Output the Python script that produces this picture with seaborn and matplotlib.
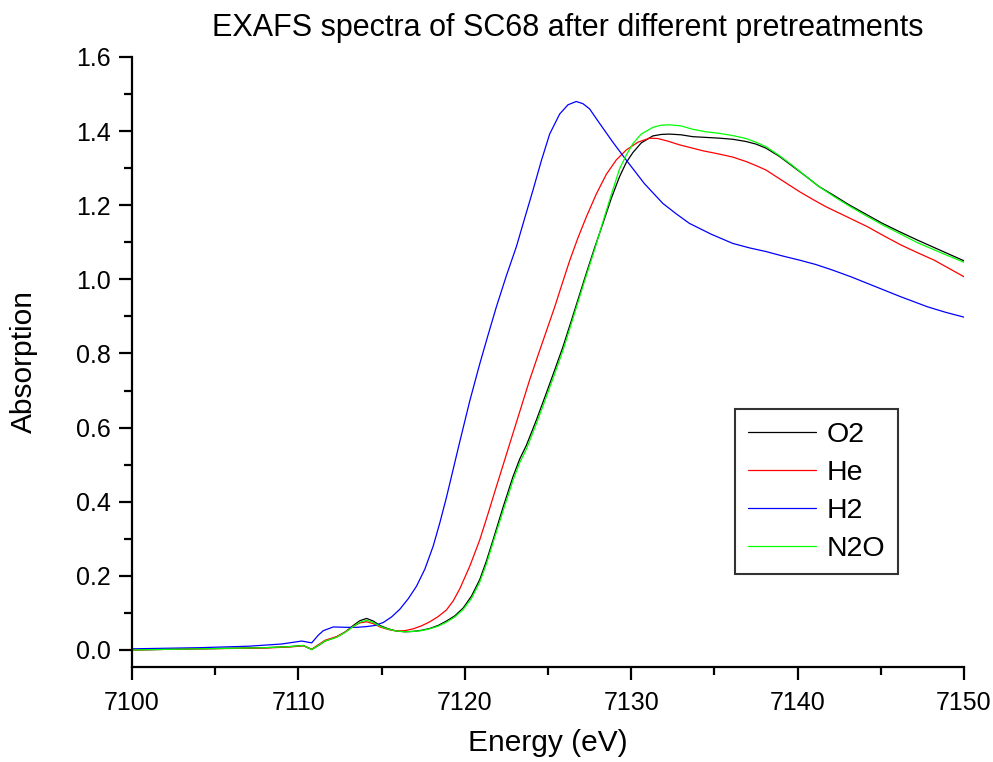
import matplotlib
matplotlib.use("Agg")
import matplotlib.pyplot as plt
from matplotlib.ticker import MultipleLocator, FormatStrFormatter
import seaborn as sns
import pandas as pd

# O2 pretreatment (black)
o2_energy = [7100, 7104, 7108, 7109.5, 7110.3, 7110.8, 7111.2, 7111.6, 7112.3, 7112.8,
             7113.3, 7113.7, 7114.1, 7114.5, 7114.9, 7115.4, 7115.9, 7116.4, 7116.9, 7117.4,
             7117.9, 7118.4, 7118.9, 7119.4, 7119.9, 7120.4, 7120.9, 7121.3, 7121.7, 7122.3,
             7122.9, 7123.3, 7123.7, 7124.3, 7124.9, 7125.4, 7125.9, 7126.4, 7126.8, 7127.3,
             7127.8, 7128.3, 7128.8, 7129.3, 7129.7, 7130.1, 7130.6, 7131.3, 7131.8, 7132.3,
             7133.0, 7133.7, 7134.5, 7135.3, 7136.1, 7136.9, 7137.5, 7138.1, 7138.9, 7139.7,
             7140.5, 7141.3, 7142.2, 7143.1, 7144.1, 7145.1, 7146.2, 7147.2, 7148.6, 7150.0]
o2_abs = [0.000, 0.003, 0.006, 0.009, 0.012, 0.001, 0.012, 0.024, 0.035, 0.048,
          0.066, 0.079, 0.085, 0.078, 0.066, 0.057, 0.051, 0.049, 0.050, 0.053,
          0.058, 0.066, 0.078, 0.092, 0.113, 0.145, 0.190, 0.240, 0.297, 0.385,
          0.468, 0.515, 0.552, 0.620, 0.693, 0.755, 0.818, 0.888, 0.945, 1.016,
          1.085, 1.151, 1.218, 1.277, 1.315, 1.342, 1.368, 1.387, 1.391, 1.392,
          1.390, 1.385, 1.383, 1.381, 1.378, 1.372, 1.365, 1.354, 1.332, 1.305,
          1.278, 1.250, 1.226, 1.201, 1.176, 1.151, 1.127, 1.106, 1.078, 1.050]

# N2O pretreatment (green)
n2o_energy = o2_energy
n2o_abs = [0.000, 0.003, 0.006, 0.009, 0.012, 0.001, 0.012, 0.024, 0.034, 0.047,
           0.063, 0.075, 0.080, 0.074, 0.064, 0.056, 0.051, 0.049, 0.050, 0.052,
           0.057, 0.064, 0.075, 0.089, 0.109, 0.139, 0.183, 0.232, 0.290, 0.375,
           0.458, 0.505, 0.542, 0.610, 0.683, 0.745, 0.808, 0.880, 0.938, 1.010,
           1.080, 1.155, 1.228, 1.298, 1.335, 1.366, 1.392, 1.410, 1.416, 1.417,
           1.414, 1.405, 1.398, 1.394, 1.388, 1.380, 1.370, 1.358, 1.334, 1.307,
           1.278, 1.250, 1.223, 1.198, 1.172, 1.147, 1.122, 1.099, 1.072, 1.046]

# He pretreatment (red)
he_energy = [7100, 7104, 7108, 7109.5, 7110.3, 7110.8, 7111.2, 7111.6, 7112.3, 7112.8,
             7113.3, 7113.7, 7114.1, 7114.5, 7114.9, 7115.4, 7115.9, 7116.4, 7116.9, 7117.4,
             7117.9, 7118.4, 7118.9, 7119.3, 7119.7, 7120.3, 7120.9, 7121.4, 7121.9, 7122.4,
             7122.9, 7123.4, 7123.9, 7124.4, 7124.9, 7125.4, 7125.9, 7126.3, 7126.8, 7127.3,
             7127.9, 7128.5, 7129.1, 7129.7, 7130.4, 7131.1, 7131.6, 7132.2, 7132.9, 7133.6,
             7134.3, 7135.3, 7136.1, 7136.9, 7137.5, 7138.1, 7139.1, 7140.1, 7140.9, 7141.7,
             7143.0, 7144.2, 7145.2, 7146.2, 7147.2, 7148.2, 7150.0]
he_abs = [0.000, 0.003, 0.005, 0.008, 0.011, 0.002, 0.014, 0.026, 0.036, 0.048,
          0.064, 0.073, 0.076, 0.071, 0.062, 0.055, 0.051, 0.052, 0.057, 0.065,
          0.076, 0.090, 0.108, 0.132, 0.165, 0.226, 0.297, 0.368, 0.441, 0.513,
          0.585, 0.657, 0.729, 0.795, 0.860, 0.925, 0.995, 1.050, 1.112, 1.168,
          1.230, 1.283, 1.322, 1.349, 1.370, 1.381, 1.380, 1.373, 1.363, 1.355,
          1.347, 1.338, 1.330, 1.318, 1.307, 1.295, 1.266, 1.237, 1.216, 1.196,
          1.168, 1.142, 1.117, 1.093, 1.072, 1.052, 1.007]

# H2 pretreatment (blue)
h2_energy = [7100, 7104, 7107, 7109, 7110.2, 7110.8, 7111.2, 7111.5, 7112.1, 7112.9,
             7113.5, 7114.1, 7114.6, 7115.1, 7115.6, 7116.1, 7116.6, 7117.1, 7117.6, 7118.1,
             7118.5, 7118.9, 7119.3, 7119.7, 7120.3, 7120.9, 7121.4, 7121.9, 7122.5, 7123.1,
             7123.6, 7124.1, 7124.6, 7125.1, 7125.7, 7126.2, 7126.7, 7127.1, 7127.5, 7128.1,
             7128.9, 7129.7, 7130.8, 7131.9, 7132.7, 7133.5, 7134.8, 7136.1, 7137.1, 7138.1,
             7139.1, 7140.1, 7141.1, 7142.1, 7143.2, 7144.2, 7145.2, 7146.2, 7147.8, 7148.9,
             7150.0]
h2_abs = [0.003, 0.006, 0.010, 0.016, 0.024, 0.019, 0.040, 0.052, 0.062, 0.061,
          0.061, 0.063, 0.066, 0.074, 0.089, 0.110, 0.138, 0.172, 0.218, 0.280,
          0.343, 0.412, 0.487, 0.562, 0.672, 0.772, 0.850, 0.926, 1.010, 1.088,
          1.165, 1.241, 1.320, 1.392, 1.446, 1.471, 1.480, 1.474, 1.460, 1.421,
          1.370, 1.322, 1.258, 1.205, 1.177, 1.151, 1.122, 1.097, 1.085, 1.075,
          1.063, 1.052, 1.040, 1.025, 1.007, 0.989, 0.971, 0.953, 0.926, 0.911,
          0.898]

labels = ["O2", "He", "H2", "N2O"]
colors = ["#000000", "#ff0000", "#0000ff", "#00ff00"]

frames = []
for name, e, a in [("O2", o2_energy, o2_abs), ("He", he_energy, he_abs),
                   ("H2", h2_energy, h2_abs), ("N2O", n2o_energy, n2o_abs)]:
    frames.append(pd.DataFrame({"Energy": e, "Absorption": a, "Gas": name}))
df = pd.concat(frames, ignore_index=True)

sns.set_style("ticks")
plt.rcParams["font.family"] = ["Liberation Sans", "DejaVu Sans"]
plt.rcParams["text.color"] = "black"
plt.rcParams["axes.labelcolor"] = "black"

fig = plt.figure(figsize=(9.93, 7.62), dpi=100)
ax = fig.add_axes([0.1329, 0.1247, 0.8379, 0.8005])

sns.lineplot(data=df, x="Energy", y="Absorption", hue="Gas", hue_order=labels,
             palette=colors, estimator=None, sort=False, linewidth=0.9, ax=ax)

ax.set_xlim(7100, 7150)
ax.set_ylim(-0.046, 1.6)
ax.xaxis.set_major_locator(MultipleLocator(10))
ax.xaxis.set_minor_locator(MultipleLocator(5))
ax.yaxis.set_major_locator(MultipleLocator(0.2))
ax.yaxis.set_minor_locator(MultipleLocator(0.1))
ax.yaxis.set_major_formatter(FormatStrFormatter("%.1f"))

for side in ["top", "right"]:
    ax.spines[side].set_visible(False)
for side in ["left", "bottom"]:
    ax.spines[side].set_linewidth(1.6)
    ax.spines[side].set_color("black")

ax.tick_params(which="major", direction="out", length=9.5, width=1.6,
               labelsize=18, colors="black")
ax.tick_params(axis="x", which="major", pad=8)
ax.tick_params(axis="y", which="major", pad=6)
ax.tick_params(which="minor", direction="out", length=5.5, width=1.6, colors="black")

ax.set_xlabel("Energy (eV)", fontsize=21.5, labelpad=10)
ax.set_ylabel("Absorption", fontsize=21.5, labelpad=27)
fig.text(0.5715, 0.953, "EXAFS spectra of SC68 after different pretreatments",
         fontsize=22, ha="center", va="baseline")

handles, _ = ax.get_legend_handles_labels()
ax.legend(handles=handles, labels=labels, loc="upper left",
          bbox_to_anchor=(0.725, 0.423), fontsize=20.5, frameon=True,
          fancybox=False, edgecolor="black", handlelength=2.4,
          handletextpad=0.35, labelspacing=0.42, borderpad=0.45,
          borderaxespad=0)
ax.get_legend().get_frame().set_linewidth(1.5)

fig.savefig("out.png", dpi=100, facecolor="white")
